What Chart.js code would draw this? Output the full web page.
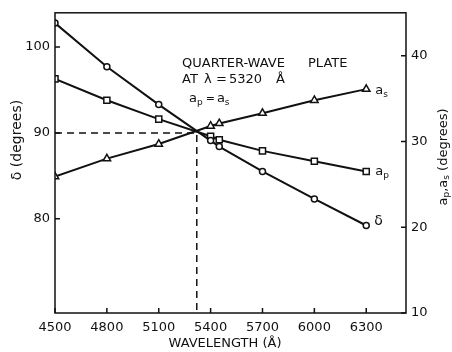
<!DOCTYPE html>
<html><head><meta charset="utf-8">
<script src="https://cdn.jsdelivr.net/npm/chart.js@4.4.0/dist/chart.umd.min.js"></script>
<style>html,body{margin:0;padding:0;background:#fff;} canvas{display:block;}</style>
</head><body>
<canvas id="c" width="452" height="352"></canvas>
<script>
const wavelengths = [4500, 4800, 5100, 5400, 5450, 5700, 6000, 6300];
const delta = [102.8, 97.7, 93.3, 89.1, 88.4, 85.5, 82.3, 79.2];
const aP = [37.3, 34.8, 32.6, 30.6, 30.2, 28.9, 27.7, 26.5];
const aS = [25.9, 28.0, 29.7, 31.8, 32.1, 33.3, 34.8, 36.1];
const xTicks = [4500, 4800, 5100, 5400, 5700, 6000, 6300];
const leftTicks = [80, 90, 100];
const rightTicks = [10, 20, 30, 40];
const quarterLambda = 5320;
const quarterDelta = 90;

const ink = '#111';
const FAM = "'DejaVu Sans', sans-serif";
const pts = ys => wavelengths.map((x, i) => ({x, y: ys[i]}));

function drawParts(ctx, parts, x, y) {
  let cx = x;
  parts.forEach(p => {
    ctx.font = (p.size || 13) + 'px ' + FAM;
    ctx.fillText(p.t, cx, y + (p.dy || 0));
    cx += ctx.measureText(p.t).width + (p.gap || 0);
  });
}
function partsWidth(ctx, parts) {
  let w = 0;
  parts.forEach(p => { ctx.font = (p.size || 13) + 'px ' + FAM; w += ctx.measureText(p.t).width + (p.gap || 0); });
  return w;
}
function rotatedParts(ctx, parts, x, y) {
  ctx.save();
  ctx.translate(x, y);
  ctx.rotate(-Math.PI / 2);
  const w = partsWidth(ctx, parts);
  ctx.textBaseline = 'middle';
  drawParts(ctx, parts, -w / 2, 0);
  ctx.restore();
}

const deco = {
  id: 'deco',
  afterDraw(chart) {
    const {ctx, chartArea: a, scales} = chart;
    ctx.save();
    ctx.strokeStyle = ink;
    ctx.lineWidth = 1.5;
    ctx.strokeRect(a.left, a.top, a.right - a.left, a.bottom - a.top);
    ctx.beginPath();
    xTicks.forEach(v => { const x = scales.x.getPixelForValue(v); ctx.moveTo(x, a.bottom); ctx.lineTo(x, a.bottom - 5); });
    leftTicks.forEach(v => { const y = scales.yL.getPixelForValue(v); ctx.moveTo(a.left, y); ctx.lineTo(a.left + 5, y); });
    rightTicks.forEach(v => { const y = scales.yR.getPixelForValue(v); ctx.moveTo(a.right, y); ctx.lineTo(a.right - 5, y); });
    ctx.stroke();

    ctx.fillStyle = ink;
    ctx.textAlign = 'left';
    ctx.textBaseline = 'alphabetic';
    // annotation
    drawParts(ctx, [{t: 'QUARTER-WAVE'}], 182, 67);
    drawParts(ctx, [{t: 'PLATE'}], 308, 67);
    drawParts(ctx, [{t: 'AT'}], 182, 83);
    drawParts(ctx, [{t: 'λ'}], 204, 83);
    drawParts(ctx, [{t: '='}], 216, 83);
    drawParts(ctx, [{t: '5320'}], 229, 83);
    drawParts(ctx, [{t: 'Å'}], 276, 83);
    drawParts(ctx, [{t: 'a'}, {t: 'p', size: 9, dy: 3, gap: 3}, {t: '=', size: 11, gap: 2}, {t: 'a'}, {t: 's', size: 9, dy: 3}], 189, 102);

    // series labels
    const xe = scales.x.getPixelForValue(wavelengths[wavelengths.length - 1]);
    const n = wavelengths.length - 1;
    drawParts(ctx, [{t: 'δ', size: 14}], xe + 8, scales.yL.getPixelForValue(delta[n]) - 1);
    drawParts(ctx, [{t: 'a'}, {t: 'p', size: 9, dy: 3}], xe + 9, scales.yR.getPixelForValue(aP[n]) + 4);
    drawParts(ctx, [{t: 'a'}, {t: 's', size: 9, dy: 3}], xe + 9, scales.yR.getPixelForValue(aS[n]) + 5);

    // axis titles
    ctx.textAlign = 'center';
    ctx.font = '13px ' + FAM;
    ctx.fillText('WAVELENGTH (Å)', 225, 347);
    ctx.textAlign = 'left';
    rotatedParts(ctx, [{t: 'δ (degrees)', size: 14}], 17, 140);
    rotatedParts(ctx, [{t: 'a'}, {t: 'p', size: 9, dy: 3}, {t: ','}, {t: 'a'}, {t: 's', size: 9, dy: 3}, {t: ' (degrees)'}], 444, 157);
    ctx.restore();
  }
};

const tickFont = {family: FAM, size: 13};
new Chart(document.getElementById('c'), {
  type: 'line',
  data: {
    datasets: [
      {data: [{x: xTicks[0], y: quarterDelta}, {x: quarterLambda, y: quarterDelta}, {x: quarterLambda, y: 69}],
       yAxisID: 'yL', borderColor: ink, borderWidth: 1.5, borderDash: [7, 5], pointRadius: 0, tension: 0},
      {data: pts(delta), yAxisID: 'yL', borderColor: ink, borderWidth: 2, pointStyle: 'circle', pointRadius: 3,
       pointBorderWidth: 1.5, pointBackgroundColor: '#fff', pointBorderColor: ink, tension: 0},
      {data: pts(aP), yAxisID: 'yR', borderColor: ink, borderWidth: 2, pointStyle: 'rect', pointRadius: 4.3,
       pointBorderWidth: 1.5, pointBackgroundColor: '#fff', pointBorderColor: ink, tension: 0},
      {data: pts(aS), yAxisID: 'yR', borderColor: ink, borderWidth: 2, pointStyle: 'triangle', pointRadius: 4.3,
       pointBorderWidth: 1.5, pointBackgroundColor: '#fff', pointBorderColor: ink, tension: 0}
    ]
  },
  options: {
    responsive: false, animation: false, devicePixelRatio: 1,
    layout: {padding: {top: 10, left: 0, right: 0, bottom: 0}},
    plugins: {legend: {display: false}, tooltip: {enabled: false}},
    scales: {
      x: {type: 'linear', min: 4500, max: 6530,
          afterBuildTicks: s => { s.ticks = xTicks.map(v => ({value: v})); },
          afterFit: s => { s.height = 39; },
          grid: {display: false, drawTicks: false}, border: {display: false},
          ticks: {font: tickFont, color: ink, padding: 7, autoSkip: false, maxRotation: 0, callback: v => String(v)}},
      yL: {type: 'linear', position: 'left', min: 69, max: 104,
           afterBuildTicks: s => { s.ticks = leftTicks.map(v => ({value: v})); },
           afterFit: s => { s.width = 55; },
           grid: {display: false, drawTicks: false}, border: {display: false},
           ticks: {font: tickFont, color: ink, padding: 5, callback: v => String(v)}},
      yR: {type: 'linear', position: 'right', min: 10, max: 45,
           afterBuildTicks: s => { s.ticks = rightTicks.map(v => ({value: v})); },
           afterFit: s => { s.width = 46; },
           grid: {display: false, drawTicks: false}, border: {display: false},
           ticks: {font: tickFont, color: ink, padding: 5, callback: v => String(v)}}
    }
  },
  plugins: [deco]
});
</script>
</body></html>
